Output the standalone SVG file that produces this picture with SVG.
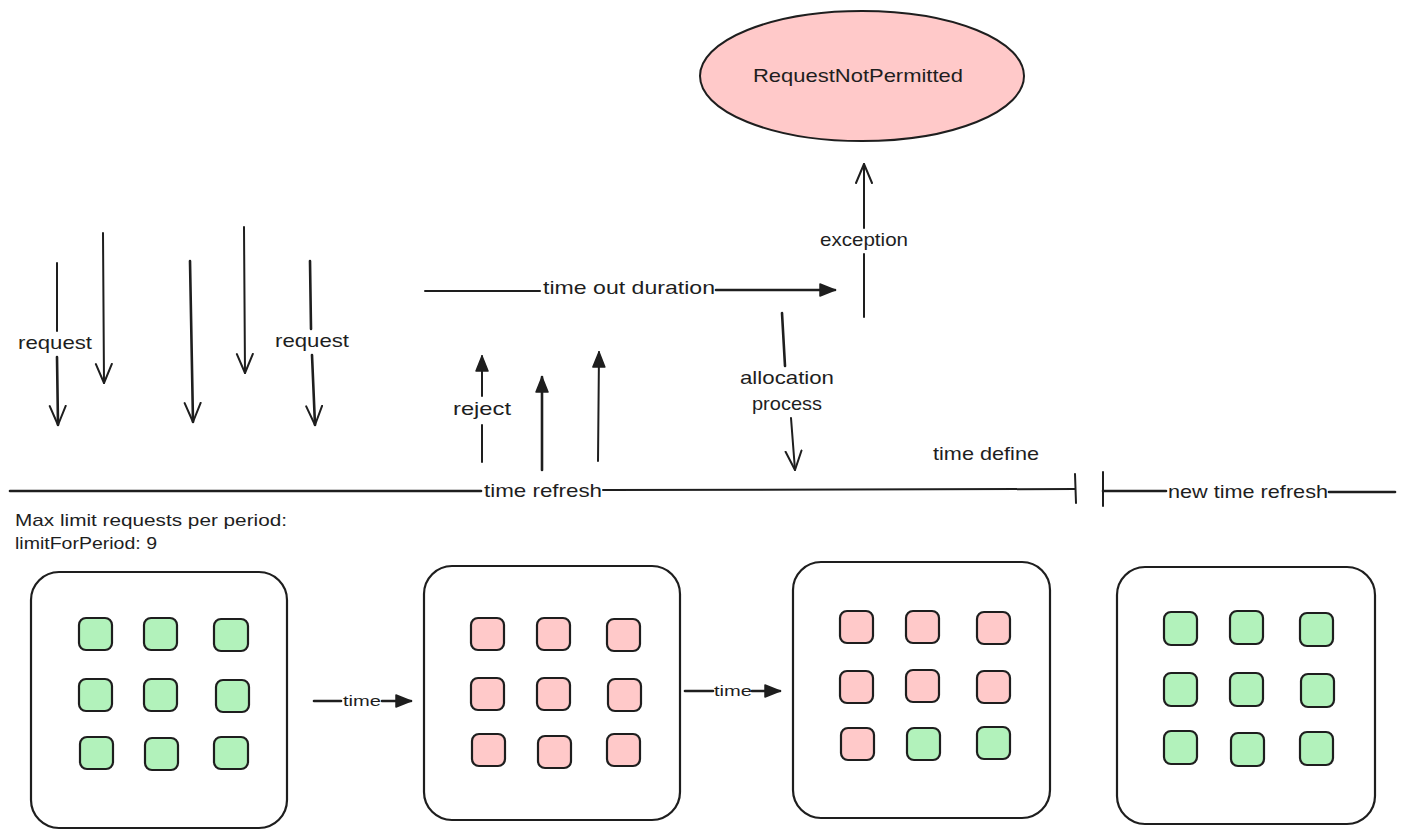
<svg xmlns="http://www.w3.org/2000/svg" width="1404" height="838" viewBox="0 0 1404 838">
<defs>
<marker id="open" markerUnits="userSpaceOnUse" markerWidth="24" markerHeight="20" refX="20" refY="9" orient="auto">
<path d="M1,1 L20,9 L1,17" fill="none" stroke="#1e1e1e" stroke-width="2" stroke-linecap="round" stroke-linejoin="round"/>
</marker>
<marker id="fill" markerUnits="userSpaceOnUse" markerWidth="18" markerHeight="14" refX="16" refY="7" orient="auto">
<path d="M1,1 L16,7 L1,13 Z" fill="#1e1e1e" stroke="#1e1e1e" stroke-width="1.5" stroke-linejoin="round"/>
</marker>
</defs>
<style>
.ln{stroke:#1e1e1e;stroke-width:2;fill:none;stroke-linecap:round}
.thk{stroke-width:2.6}
.t{font-family:"Liberation Sans",Arial,sans-serif;font-size:19px;fill:#1e1e1e;text-anchor:middle}
.ts{font-family:"Liberation Sans",Arial,sans-serif;font-size:15px;fill:#1e1e1e;text-anchor:middle}
.tl{font-family:"Liberation Sans",Arial,sans-serif;font-size:17px;fill:#1e1e1e}
.box{fill:#ffffff;stroke:#1e1e1e;stroke-width:2.2}
.g{fill:#b2f2bb;stroke:#1e1e1e;stroke-width:2.2}
.r{fill:#ffc9c9;stroke:#1e1e1e;stroke-width:2.2}
</style>
<rect width="1404" height="838" fill="#ffffff"/>

<g id="exception-node">
<ellipse cx="862" cy="76" rx="162" ry="65" fill="#ffc9c9" stroke="#1e1e1e" stroke-width="2"/>
<text class="t" x="858" y="82" textLength="210" lengthAdjust="spacingAndGlyphs">RequestNotPermitted</text>
</g>

<g id="connectors">
<!-- request arrows -->
<line class="ln" x1="57" y1="263" x2="57" y2="331"/>
<line class="ln thk" x1="57" y1="357" x2="58" y2="425" marker-end="url(#open)"/>
<line class="ln" x1="103" y1="233" x2="104" y2="383" marker-end="url(#open)"/>
<line class="ln thk" x1="190" y1="261" x2="193" y2="422" marker-end="url(#open)"/>
<line class="ln" x1="244" y1="227" x2="245" y2="373" marker-end="url(#open)"/>
<line class="ln thk" x1="310" y1="261" x2="311" y2="329"/>
<line class="ln thk" x1="312" y1="355" x2="315" y2="425" marker-end="url(#open)"/>
<!-- time out duration -->
<line class="ln" x1="425" y1="291" x2="540" y2="291"/>
<line class="ln thk" x1="716" y1="290" x2="835" y2="290" marker-end="url(#fill)"/>
<!-- exception -->
<line class="ln" x1="864" y1="317" x2="864" y2="254"/>
<line class="ln" x1="864" y1="228" x2="864" y2="164" marker-end="url(#open)"/>
<!-- reject / up arrows -->
<line class="ln" x1="482" y1="462" x2="482" y2="425"/>
<line class="ln" x1="482" y1="396" x2="482" y2="356" marker-end="url(#fill)"/>
<line class="ln thk" x1="542" y1="470" x2="542" y2="377" marker-end="url(#fill)"/>
<line class="ln" x1="598" y1="461" x2="599" y2="352" marker-end="url(#fill)"/>
<!-- allocation process -->
<line class="ln thk" x1="782" y1="313" x2="785" y2="366"/>
<line class="ln" x1="791" y1="418" x2="795" y2="470" marker-end="url(#open)"/>
<!-- time refresh -->
<line class="ln thk" x1="10" y1="491" x2="481" y2="491"/>
<line class="ln" x1="603" y1="490" x2="1075" y2="489"/>
<line class="ln" x1="1075" y1="474" x2="1076" y2="503"/>
<line class="ln" x1="1103" y1="472" x2="1103" y2="506"/>
<line class="ln thk" x1="1103" y1="491" x2="1166" y2="491"/>
<line class="ln thk" x1="1329" y1="492" x2="1395" y2="492"/>
<!-- time arrows between boxes -->
<line class="ln thk" x1="314" y1="701" x2="341" y2="701"/>
<line class="ln thk" x1="382" y1="701" x2="411" y2="701" marker-end="url(#fill)"/>
<line class="ln thk" x1="685" y1="691" x2="713" y2="691"/>
<line class="ln thk" x1="752" y1="691" x2="780" y2="691" marker-end="url(#fill)"/>
</g>

<g id="labels">
<text class="t" x="55" y="349" textLength="74" lengthAdjust="spacingAndGlyphs">request</text>
<text class="t" x="312" y="347" textLength="74" lengthAdjust="spacingAndGlyphs">request</text>
<text class="t" x="629" y="294" textLength="172" lengthAdjust="spacingAndGlyphs">time out duration</text>
<text class="t" x="864" y="246" textLength="88" lengthAdjust="spacingAndGlyphs">exception</text>
<text class="t" x="482" y="415" textLength="58" lengthAdjust="spacingAndGlyphs">reject</text>
<text class="t" x="787" y="384" textLength="94" lengthAdjust="spacingAndGlyphs">allocation</text>
<text class="t" x="787" y="410" textLength="70" lengthAdjust="spacingAndGlyphs">process</text>
<text class="t" x="543" y="497" textLength="118" lengthAdjust="spacingAndGlyphs">time refresh</text>
<text class="t" x="986" y="460" textLength="106" lengthAdjust="spacingAndGlyphs">time define</text>
<text class="t" x="1248" y="498" textLength="160" lengthAdjust="spacingAndGlyphs">new time refresh</text>
<text class="ts" x="362" y="706" textLength="38" lengthAdjust="spacingAndGlyphs">time</text>
<text class="ts" x="733" y="696" textLength="38" lengthAdjust="spacingAndGlyphs">time</text>
</g>

<g id="note">
<text class="tl" x="15" y="526" textLength="272" lengthAdjust="spacingAndGlyphs">Max limit requests per period:</text>
<text class="tl" x="15" y="549" textLength="142" lengthAdjust="spacingAndGlyphs">limitForPeriod: 9</text>
</g>

<g id="period-1">
<rect class="box" x="31" y="572" width="256" height="256" rx="28"/>
<rect class="g" x="79" y="618" width="33" height="32" rx="7"/>
<rect class="g" x="144" y="618" width="33" height="32" rx="7"/>
<rect class="g" x="214" y="619" width="34" height="32" rx="7"/>
<rect class="g" x="79" y="679" width="33" height="32" rx="7"/>
<rect class="g" x="144" y="679" width="33" height="32" rx="7"/>
<rect class="g" x="216" y="680" width="33" height="32" rx="7"/>
<rect class="g" x="80" y="737" width="33" height="32" rx="7"/>
<rect class="g" x="145" y="738" width="33" height="32" rx="7"/>
<rect class="g" x="214" y="737" width="34" height="32" rx="7"/>
</g>

<g id="period-2">
<rect class="box" x="424" y="566" width="256" height="254" rx="28"/>
<rect class="r" x="471" y="618" width="33" height="32" rx="7"/>
<rect class="r" x="537" y="618" width="33" height="32" rx="7"/>
<rect class="r" x="607" y="619" width="33" height="32" rx="7"/>
<rect class="r" x="471" y="678" width="33" height="32" rx="7"/>
<rect class="r" x="537" y="678" width="33" height="32" rx="7"/>
<rect class="r" x="608" y="679" width="33" height="32" rx="7"/>
<rect class="r" x="472" y="734" width="33" height="32" rx="7"/>
<rect class="r" x="538" y="736" width="33" height="32" rx="7"/>
<rect class="r" x="607" y="734" width="33" height="32" rx="7"/>
</g>

<g id="period-3">
<rect class="box" x="793" y="562" width="257" height="256" rx="28"/>
<rect class="r" x="840" y="611" width="33" height="32" rx="7"/>
<rect class="r" x="906" y="611" width="33" height="32" rx="7"/>
<rect class="r" x="977" y="612" width="33" height="32" rx="7"/>
<rect class="r" x="840" y="671" width="33" height="32" rx="7"/>
<rect class="r" x="906" y="670" width="33" height="32" rx="7"/>
<rect class="r" x="977" y="671" width="33" height="32" rx="7"/>
<rect class="r" x="841" y="728" width="33" height="32" rx="7"/>
<rect class="g" x="907" y="728" width="33" height="32" rx="7"/>
<rect class="g" x="977" y="727" width="33" height="32" rx="7"/>
</g>

<g id="period-4">
<rect class="box" x="1117" y="567" width="258" height="257" rx="28"/>
<rect class="g" x="1164" y="612" width="33" height="33" rx="7"/>
<rect class="g" x="1230" y="611" width="33" height="33" rx="7"/>
<rect class="g" x="1300" y="613" width="33" height="33" rx="7"/>
<rect class="g" x="1164" y="673" width="33" height="33" rx="7"/>
<rect class="g" x="1230" y="673" width="33" height="33" rx="7"/>
<rect class="g" x="1301" y="674" width="33" height="33" rx="7"/>
<rect class="g" x="1164" y="731" width="33" height="33" rx="7"/>
<rect class="g" x="1231" y="733" width="33" height="33" rx="7"/>
<rect class="g" x="1300" y="732" width="33" height="33" rx="7"/>
</g>
</svg>
